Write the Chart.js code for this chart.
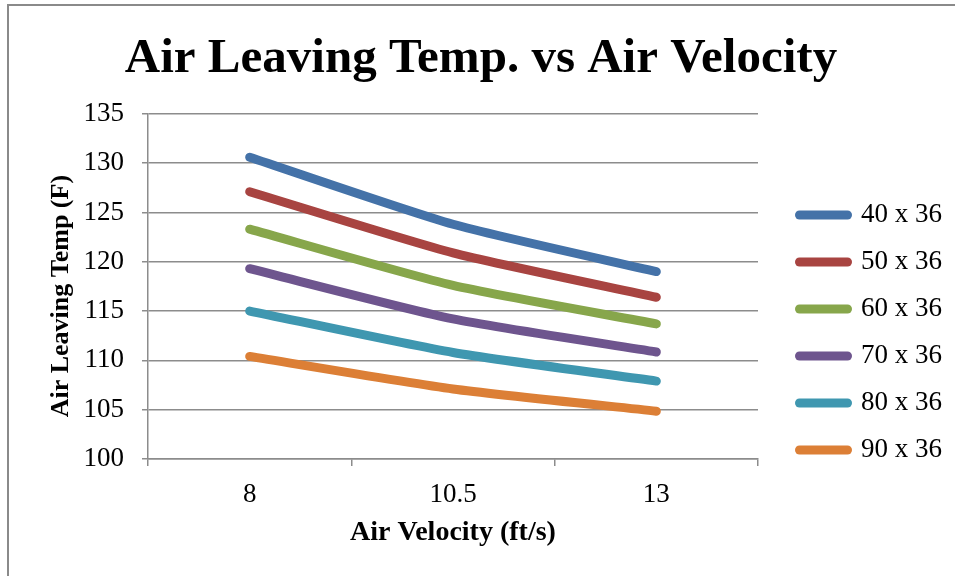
<!DOCTYPE html>
<html>
<head>
<meta charset="utf-8">
<script src="https://cdn.jsdelivr.net/npm/chart.js@4"></script>
<style>
  body { margin: 0; background: #fff; }
  #frame { position: absolute; left: 7px; top: 4px; width: 960px; height: 600px;
           border-left: 2px solid #8a8a8a; border-top: 2px solid #8a8a8a; }
  #temps { position: absolute; left: 0; top: 0; }
</style>
</head>
<body>
<div id="frame"></div>
<canvas id="temps" width="955" height="576"></canvas>
<script>
var velocidades = ['8', '10.5', '13'];

var t40x36 = [130.6, 123.8, 119.0];
var t50x36 = [127.1, 120.9, 116.4];
var t60x36 = [123.3, 117.6, 113.7];
var t70x36 = [119.3, 114.2, 110.85];
var t80x36 = [115.0, 110.8, 107.9];
var t90x36 = [110.4, 107.1, 104.85];

var serie = function (nombre, datos, color) {
  return {
    label: nombre,
    data: datos,
    borderColor: color,
    backgroundColor: color,
    borderWidth: 9,
    borderCapStyle: 'round',
    borderJoinStyle: 'round',
    pointRadius: 0,
    pointStyle: 'line',
    tension: 0.2
  };
};

var gris = '#8c8c8c';
var letra = "'Liberation Serif', 'Times New Roman', serif";

var grafico = new Chart(document.getElementById('temps').getContext('2d'), {
  type: 'line',
  data: {
    labels: velocidades,
    datasets: [
      serie('40 x 36', t40x36, '#4472a8'),
      serie('50 x 36', t50x36, '#a84441'),
      serie('60 x 36', t60x36, '#87a64b'),
      serie('70 x 36', t70x36, '#6e558e'),
      serie('80 x 36', t80x36, '#3f97b0'),
      serie('90 x 36', t90x36, '#dc7f36')
    ]
  },
  options: {
    responsive: false,
    animation: false,
    layout: { padding: { left: 10, right: 3, top: 0, bottom: 0 } },
    plugins: {
      title: {
        display: true,
        text: 'Air Leaving Temp. vs Air Velocity',
        color: '#000',
        font: { family: letra, size: 49, weight: 'bold' },
        padding: { top: 30, bottom: 25 }
      },
      legend: {
        position: 'right',
        maxWidth: 220,
        title: { display: true, text: '', font: { size: 10 }, padding: { top: 77, bottom: 0 } },
        labels: {
          color: '#000',
          font: { family: letra, size: 27 },
          usePointStyle: true,
          pointStyleWidth: 48,
          padding: 20,
          // puntas redondas como en Excel
          generateLabels: function (chart) {
            return Chart.defaults.plugins.legend.labels.generateLabels(chart).map(function (item) {
              item.lineCap = 'round';
              return item;
            });
          }
        }
      },
      tooltip: { enabled: false }
    },
    scales: {
      x: {
        offset: true,
        afterFit: function (eje) { eje.height = 117; },
        grid: { offset: true, drawOnChartArea: false, drawTicks: true, tickLength: 7, color: gris, lineWidth: 1.5 },
        border: { color: gris, width: 1.5 },
        ticks: { color: '#000', font: { family: letra, size: 27 }, padding: 13 },
        title: {
          display: true,
          text: 'Air Velocity (ft/s)',
          color: '#000',
          font: { family: letra, size: 28, weight: 'bold' },
          padding: { top: 0, bottom: 26 }
        }
      },
      y: {
        min: 100,
        max: 135,
        afterFit: function (eje) { eje.width = 138; },
        grid: { color: gris, lineWidth: 1.5, tickLength: 6 },
        border: { color: gris, width: 1.5 },
        ticks: { stepSize: 5, color: '#000', font: { family: letra, size: 27 }, padding: 18 },
        title: {
          display: true,
          text: 'Air Leaving Temp (F)   ',
          color: '#000',
          font: { family: letra, size: 26, weight: 'bold' },
          padding: { top: 36, bottom: 0 }
        }
      },
      hueco: {
        type: 'linear',
        position: 'right',
        min: 0,
        max: 1,
        afterFit: function (eje) { eje.width = 21.5; },
        grid: { drawOnChartArea: false, drawTicks: false },
        border: { display: false },
        ticks: { display: false }
      }
    }
  }
});
</script>
</body>
</html>
